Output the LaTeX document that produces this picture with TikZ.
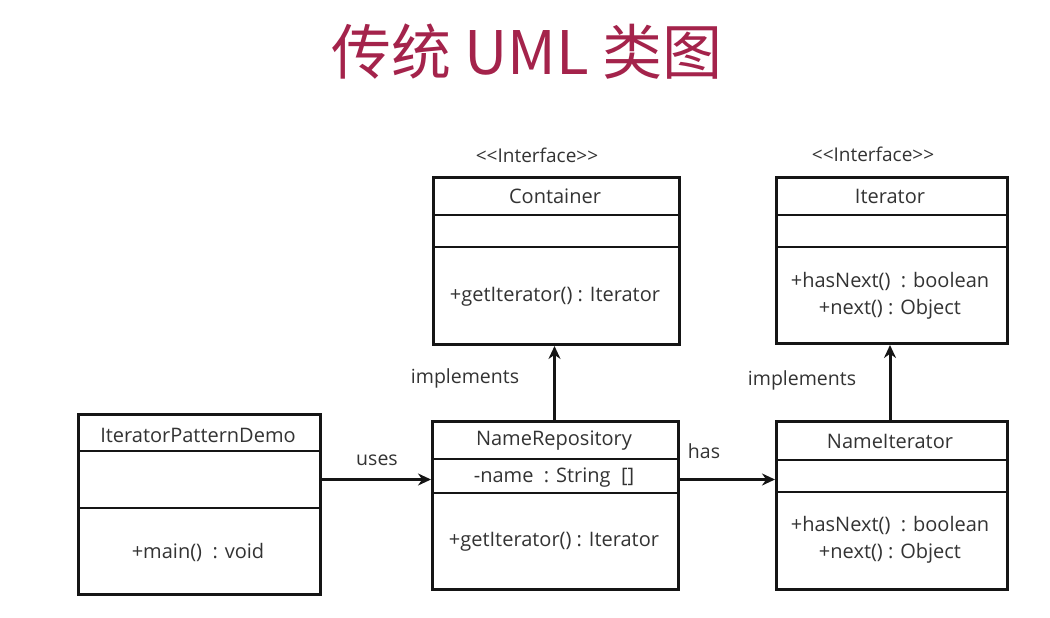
\documentclass[tikz,border=0pt]{standalone}
\usepackage{fontspec}
\setmainfont{Open Sans}
\newfontfamily\cjk{Noto Sans CJK SC}
\usetikzlibrary{arrows.meta}
\definecolor{titlered}{HTML}{A4234B}
\definecolor{ink}{HTML}{151515}
\definecolor{txt}{HTML}{333333}
\begin{document}
\begin{tikzpicture}[x=1pt,y=-1pt,
  classbox/.style={draw=ink,line width=3pt,minimum width=#1,inner sep=0pt,anchor=north west},
  divider/.style={draw=ink,line width=2.8pt},
  ctext/.style={font=\fontsize{20}{27.5}\selectfont,text=txt,inner sep=0pt,align=center},
  stereo/.style={font=\fontsize{19}{22}\selectfont,text=txt,inner sep=0pt},
  lbl/.style={font=\fontsize{19.5}{23}\selectfont,text=txt,inner sep=0pt},
  conn/.style={draw=ink,line width=3pt,-{Stealth[length=13pt,width=12pt]}}
]
\useasboundingbox[fill=white] (0,0) rectangle (1050,618);
\node[font=\cjk\fontsize{60}{66}\selectfont,text=titlered] (title) at (527,52) {传统 UML 类图};

% Container
\node[classbox=246pt,minimum height=167pt] (cont) at (432,176) {};
\draw[divider] (432,215) -- (678,215);
\draw[divider] (432,247) -- (678,247);
\node[ctext] (contname) at (555,196) {Container};
\node[ctext] (contop) at (555,297) {+getIterator() : Iterator};
\node[stereo] (st1) at (537,155) {{<}{<}Interface{>}{>}};

% Iterator
\node[classbox=231pt,minimum height=166pt] (iter) at (775,176) {};
\draw[divider] (775,215) -- (1006,215);
\draw[divider] (775,247) -- (1006,247);
\node[ctext] (itername) at (890,196) {Iterator};
\node[ctext] (iterop) at (890,296) {+hasNext()\ \ : boolean\\+next() : Object};
\node[stereo] (st2) at (873,154) {{<}{<}Interface{>}{>}};

% IteratorPatternDemo
\node[classbox=242pt,minimum height=180pt] (demo) at (77,413) {};
\draw[divider] (77,451) -- (319,451);
\draw[divider] (77,508) -- (319,508);
\node[ctext] (demoname) at (198,435) {IteratorPatternDemo};
\node[ctext] (demoop) at (198,552) {+main()\ \ : void};

% NameRepository
\node[classbox=246pt,minimum height=168pt] (repo) at (431,420) {};
\draw[divider] (431,459) -- (677,459);
\draw[divider] (431,493) -- (677,493);
\node[ctext] (reponame) at (554,441) {NameRepository};
\node[ctext] (repoattr) at (554,478) {-name\ \ : String\ \ []};
\node[ctext] (repoop) at (554,542) {+getIterator() : Iterator};

% NameIterator
\node[classbox=231pt,minimum height=168pt] (niter) at (775,420) {};
\draw[divider] (775,460) -- (1006,460);
\draw[divider] (775,492) -- (1006,492);
\node[ctext] (nitername) at (890,441) {NameIterator};
\node[ctext] (niterop) at (890,540) {+hasNext()\ \ : boolean\\+next() : Object};

% connectors
\draw[conn] ([yshift=25pt]demo.east) -- ([yshift=26pt]repo.west);
\node[lbl] (uses) at (377,460) {uses};
\draw[conn] ([yshift=26pt]repo.east) -- ([yshift=26pt]niter.west);
\node[lbl] (has) at (704,451) {has};
\draw[conn] ([xshift=-1pt]repo.north) -- ([xshift=-2pt]cont.south);
\node[lbl] (impl1) at (465,378) {implements};
\draw[conn] ([xshift=-2pt]niter.north) -- ([xshift=-2pt]iter.south);
\node[lbl] (impl2) at (802,380) {implements};
\end{tikzpicture}
\end{document}
